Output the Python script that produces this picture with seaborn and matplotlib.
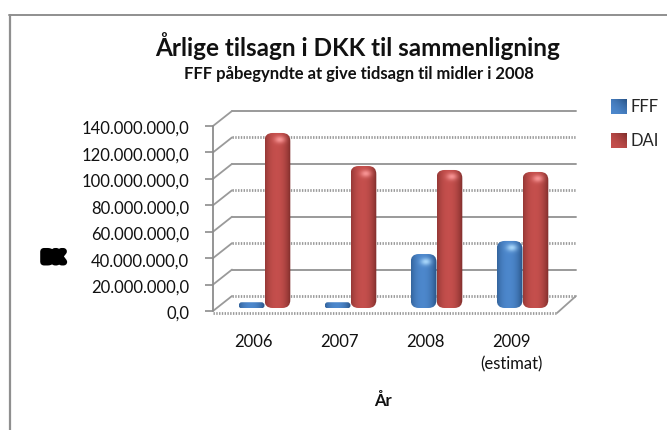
import numpy as np
import pandas as pd
import seaborn as sns
from matplotlib import pyplot as plt
from matplotlib import patches as mpatches
from matplotlib import patheffects as pe
from matplotlib.lines import Line2D
from matplotlib.transforms import IdentityTransform, ScaledTranslation, offset_copy

years = ['2006', '2007', '2008', '2009']
fff = [200000, 200000, 34800000, 44700000]
dai = [126400000, 101400000, 98400000, 96900000]
yticks = [0, 20000000, 40000000, 60000000, 80000000, 100000000, 120000000, 140000000]
series_names = ['FFF', 'DAI']

W, H = 667, 430
sns.set_style('white')
plt.rcParams['font.family'] = ['Lato', 'DejaVu Sans']

d = pd.DataFrame({'year': years * 2, 'value': fff + dai,
                  'series': ['FFF'] * 4 + ['DAI'] * 4})

fig = plt.figure(figsize=(W / 100, H / 100), dpi=100)
ax = fig.add_axes([213 / W, 1 - 311 / H, 344 / W, 185 / H])
sns.barplot(data=d, x='year', y='value', hue='series', order=years, hue_order=series_names,
            palette={'FFF': '#4579b8', 'DAI': '#bf4c49'}, width=0.6, gap=0, saturation=1, ax=ax)
ax.set_xlim(-0.5, 3.5)
ax.set_ylim(0, 140000000)
ax.set_xlabel('')
ax.set_ylabel('')
for s in ax.spines.values():
    s.set_visible(False)

# y tick labels with danish number format
ax.set_yticks(yticks)
ax.set_yticklabels([f'{v:,.1f}'.replace(',', 'X').replace('.', ',').replace('X', '.') for v in yticks],
                   fontsize=12, color='#111111')
ax.tick_params(axis='y', length=6, width=1.2, color='#8c8c8c', pad=11, left=True)
ax.tick_params(axis='x', length=0, pad=16.5, labelsize=12, labelcolor='#111111')
for lab in ax.get_yticklabels():
    lab.set_transform(lab.get_transform() + ScaledTranslation(0, -1.5 / 100, fig.dpi_scale_trans))
for lab in ax.get_xticklabels():
    lab.set_transform(lab.get_transform() + ScaledTranslation(-3 / 100, 0, fig.dpi_scale_trans))
ax.annotate('(estimat)', xy=(3, 0), xycoords=('data', 'axes fraction'), xytext=(-3, -53),
            textcoords='offset pixels', ha='center', va='center', fontsize=12, color='#111111')

# walls: back wall is the front one moved by the 3d depth
back = offset_copy(ax.transData, fig=fig, x=19, y=15, units='dots')
for i, v in enumerate(yticks):
    # jpeg noise makes every other line look dotted
    dotted = i % 2 == 0
    ax.plot([-0.5, 3.5], [v, v], transform=back, clip_on=False, color='#9a9a9a', zorder=1,
            lw=2 if dotted else 1.4, ls=(0, (0.5, 0.5)) if dotted else '-')
    p0 = ax.transData.transform((-0.5, v))
    p1 = back.transform((-0.5, v))
    ax.add_artist(Line2D([p0[0], p1[0]], [p0[1], p1[1]], transform=IdentityTransform(),
                         color='#9a9a9a', lw=1.3, clip_on=False, zorder=1))
ax.plot([-0.5, -0.5], [0, 140000000], color='#8c8c8c', lw=1.3, clip_on=False, zorder=1)
floor = offset_copy(ax.transData, fig=fig, x=0, y=-2, units='dots')
ax.plot([-0.5, 3.5], [0, 0], transform=floor, color='#9a9a9a', lw=2, ls=(0, (0.5, 0.5)), clip_on=False, zorder=1)
p0 = floor.transform((3.5, 0))
p1 = back.transform((3.5, 0))
ax.add_artist(Line2D([p0[0], p1[0]], [p0[1], p1[1]], transform=IdentityTransform(),
                     color='#9a9a9a', lw=1.3, clip_on=False, zorder=1))

# cylinders: swap the seaborn rectangles for shaded rounded ones
bar_tr = offset_copy(ax.transData, fig=fig, x=8.5, y=7, units='dots')
shades = [((0.16, 0.33, 0.53), (0.30, 0.53, 0.80), (0.66, 0.84, 0.98)),
          ((0.50, 0.18, 0.17), (0.77, 0.31, 0.30), (0.97, 0.58, 0.58))]
for bar_c, (dark, mid, light) in zip(ax.containers, shades):
    for b in bar_c:
        b.set_visible(False)
        x0, y0 = bar_tr.transform((b.get_x(), 0))
        x1, y1 = bar_tr.transform((b.get_x() + b.get_width(), b.get_height()))
        flat = y1 - y0 < 3
        cap = 3 if flat else 4
        if flat:
            y0, y1 = y0 - 1.5, y1 - 1.5
        w, h = x1 - x0, y1 - y0 + 2 * cap
        nx, ny = max(int(w), 2), max(int(h), 2)
        u = np.linspace(0, 1, nx)
        t = np.clip(np.abs(u - 0.45) / 0.55, 0, 1) ** 2.2
        img = np.zeros((ny, nx, 3))
        for c in range(3):
            img[:, :, c] = mid[c] + (dark[c] - mid[c]) * t
        # highlight near the top
        if not flat:
            yy, xx = np.mgrid[0:ny, 0:nx]
            glow = np.exp(-(((xx - nx * 0.55) / 5.0) ** 2 + ((yy - 7) / 3.5) ** 2))[:, :, None]
            img = img + (np.array(light) - img) * glow
        im = ax.imshow(img, extent=(x0, x1, y0 - cap, y1 + cap), transform=IdentityTransform(),
                       aspect='auto', zorder=3, interpolation='bilinear')
        r = min(8, h / 2 - 0.01)
        clip = mpatches.FancyBboxPatch((x0, y0 - cap), w, h, boxstyle=f'round,pad=0,rounding_size={r}',
                                       transform=IdentityTransform(), fc='none', ec='none')
        ax.add_artist(clip)
        im.set_clip_path(clip)
ax.set_xlim(-0.5, 3.5)
ax.set_ylim(0, 140000000)

sns.move_legend(ax, 'upper left', bbox_to_anchor=(611 / W, 1 - 99 / H), bbox_transform=fig.transFigure,
                frameon=False, title=None, fontsize=12, handlelength=0.95, handleheight=1.0,
                handletextpad=0.2, labelspacing=1.05, borderpad=0, borderaxespad=0)

# legend swatches get a diagonal shade on top of the flat patch
fig.canvas.draw()
for handle, (dark, mid, light) in zip(ax.get_legend().legend_handles, shades):
    box = handle.get_window_extent()
    n = int(round(box.width))
    m = int(round(box.height))
    yy, xx = np.mgrid[0:m, 0:n]
    k = np.clip((xx / max(n - 1, 1) - yy / max(m - 1, 1) + 1) / 2, 0, 1)[:, :, None]
    sw = np.array(mid) + (np.array(dark) - np.array(mid)) * k ** 2
    fig.figimage(sw, xo=int(box.x0), yo=int(box.y0), origin='upper', zorder=5)

# titles and the rest of the text
fig.text(358 / W, 1 - 46 / H, 'Årlige tilsagn i DKK til sammenligning', ha='center', va='center',
         fontsize=17.5, fontweight='bold', color='#111111')
fig.text(359 / W, 1 - 74 / H, 'FFF påbegyndte at give tidsagn til midler i 2008', ha='center', va='center',
         fontsize=12, fontweight='bold', color='#111111')
fig.text(383 / W, 1 - 401 / H, 'År', ha='center', va='center', fontsize=12, fontweight='bold', color='#111111')
# the squashed y axis title is an unreadable black blob
fig.text(53 / W, 1 - 258 / H, 'DK', ha='center', va='center', fontsize=10.5, fontweight='bold', color='black',
         path_effects=[pe.withStroke(linewidth=5, foreground='black')])

# chart area border, only top and left are inside the crop
fig.add_artist(Line2D([10 / W, 10 / W], [0, 1 - 14.5 / H], color='#8f8f8f', lw=1.6))
fig.add_artist(Line2D([9 / W, 1], [1 - 14.5 / H, 1 - 14.5 / H], color='#8f8f8f', lw=1.4))

fig.savefig('out.png', dpi=100)
